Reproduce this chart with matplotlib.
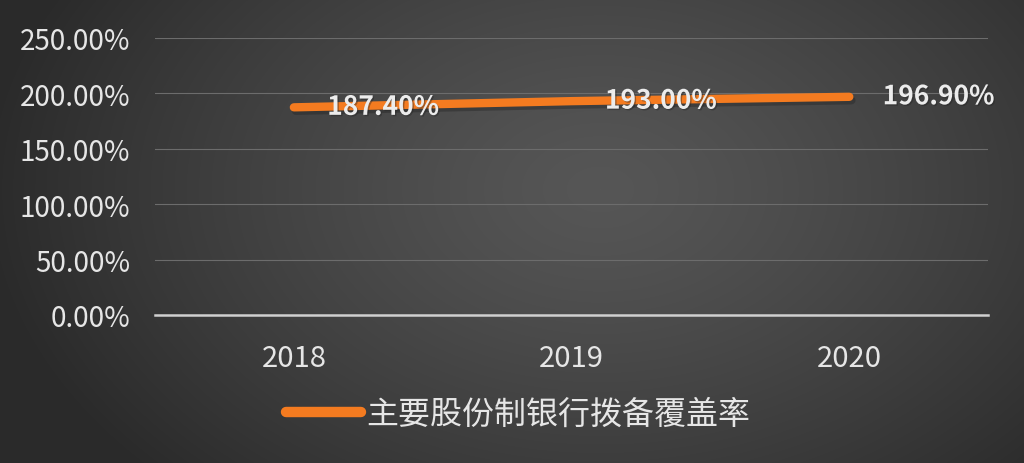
import numpy as np
import matplotlib.pyplot as plt
import matplotlib.patheffects as pe

plt.rcParams['font.family'] = ['Noto Sans CJK SC', 'DejaVu Sans']

years = ['2018', '2019', '2020']
coverage = [187.40, 193.00, 196.90]
series_name = '主要股份制银行拨备覆盖率'
yticks = [0, 50, 100, 150, 200, 250]

fig = plt.figure(figsize=(10.24, 4.64), dpi=100)

# dark radial background
bg = fig.add_axes([0, 0, 1, 1])
h, w = 464, 1024
yy, xx = np.mgrid[0:h, 0:w]
d = np.sqrt(((xx - 600) / 620.0) ** 2 + ((yy - 190) / 420.0) ** 2)
d = np.clip(d, 0, 1)
inner = np.array([0x56, 0x56, 0x56]) / 255
outer = np.array([0x2a, 0x2a, 0x2a]) / 255
img = inner + (outer - inner) * d[..., None] ** 1.3
bg.imshow(img, aspect='auto', extent=[0, 1, 0, 1])
bg.axis('off')

ax = fig.add_axes([0.1514, 0.319, 0.8136, 0.597])
ax.patch.set_alpha(0)
x = np.arange(len(years))
ax.plot(x, coverage, color='#f47b20', lw=6, solid_capstyle='round', zorder=3,
        label=series_name,
        path_effects=[pe.SimpleLineShadow(offset=(1.5, -2.5), shadow_color='#1e1e1e', alpha=0.35),
                      pe.Normal()])

for xi, v in zip(x, coverage):
    ax.annotate(f'{v:.2f}%', (xi, v), xytext=(24, 0), textcoords='offset points',
                ha='left', va='center', fontsize=19, fontweight='bold', color='#ececec',
                zorder=4,
                path_effects=[pe.withSimplePatchShadow(offset=(1, -1), shadow_rgbFace='#222222', alpha=0.4)])

ax.set_xlim(-0.5, 2.5)
ax.set_ylim(0, 250)
ax.set_yticks(yticks)
ax.set_yticklabels([f'{t:.2f}%' for t in yticks], fontsize=20, color='#e6e6e6')
ax.set_xticks(x)
ax.set_xticklabels(years, fontsize=21, color='#e6e6e6')
ax.tick_params(length=0, pad=18)
ax.tick_params(axis='x', pad=20)
ax.grid(axis='y', color='#6c6c6c', lw=0.8)
for s in ['top', 'right', 'left']:
    ax.spines[s].set_visible(False)
ax.spines['bottom'].set_color('#d0d0d0')
ax.spines['bottom'].set_linewidth(1.8)

leg = fig.legend(loc='center', bbox_to_anchor=(0.506, 0.106), frameon=False,
                 fontsize=23, labelcolor='#e6e6e6', handlelength=2.35, handletextpad=0.15)
for line in leg.get_lines():
    line.set_linewidth(7.5)
    line.set_path_effects([])

fig.savefig('out.png', dpi=100)
